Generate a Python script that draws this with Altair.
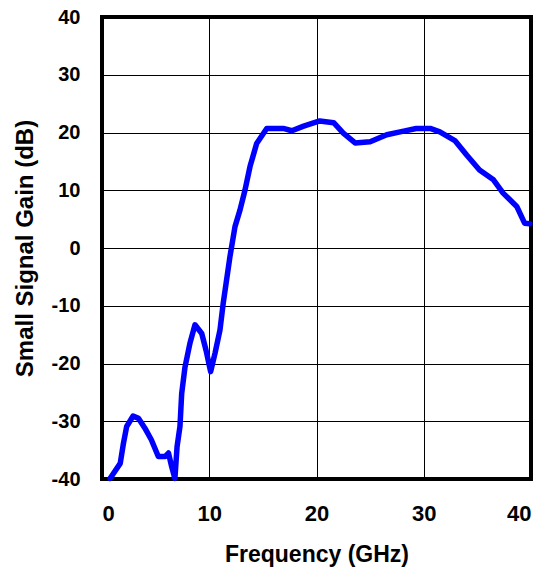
import altair as alt
import pandas as pd

freq = [0.75, 1.7, 2.0, 2.3, 2.9, 3.4, 4.0, 4.6, 5.25, 5.9, 6.2, 6.5, 6.8, 7.0, 7.27, 7.43, 7.74, 8.2, 8.67,
        9.3, 9.7, 10.13, 10.54, 11.0, 11.3, 11.93, 12.4, 12.87, 13.33, 13.8, 14.42, 15.36, 16.9, 17.7, 18.8,
        20.3, 21.6, 22.5, 23.6, 25.0, 26.55, 27.8, 29.3, 30.6, 31.5, 32.9, 34.0, 35.2, 36.5, 37.4, 38.67, 39.4, 39.9]
gain = [-39.9, -37.3, -33.8, -30.9, -29.1, -29.5, -31.2, -33.2, -36.1, -36.1, -35.5, -37.9, -39.9, -34.4,
        -30.9, -25.2, -20.6, -16.5, -13.3, -14.8, -17.7, -21.4, -18.2, -14.2, -9.6, -1.5, 3.7, 6.6, 10.0,
        14.1, 18.1, 20.7, 20.7, 20.3, 21.1, 22.0, 21.7, 19.9, 18.2, 18.4, 19.6, 20.1, 20.7, 20.7, 20.1, 18.6,
        16.1, 13.5, 11.8, 9.5, 7.2, 4.3, 4.2]
x_ticks = [0, 10, 20, 30, 40]
y_ticks = [-40, -30, -20, -10, 0, 10, 20, 30, 40]

df = pd.DataFrame({"f": freq, "g": gain})
FONT = "Liberation Sans"

chart = alt.Chart(df).mark_line(color="#0000FF", strokeWidth=5.5, strokeJoin="round", strokeCap="round").encode(
    x=alt.X("f:Q", title="Frequency (GHz)",
            scale=alt.Scale(domain=[0, 40], nice=False),
            axis=alt.Axis(values=x_ticks, grid=True, gridColor="black", gridOpacity=1, gridWidth=1,
                          domain=False, ticks=False, labelPadding=24, labelFontSize=22,
                          labelExpr="datum.value + ''",
                          labelFont=FONT, labelFontWeight="bold", labelColor="black",
                          titleFont=FONT, titleFontSize=23, titleFontWeight="bold", titleColor="black",
                          titlePadding=19)),
    y=alt.Y("g:Q", title="Small Signal Gain (dB)",
            scale=alt.Scale(domain=[-40, 40], nice=False),
            axis=alt.Axis(values=y_ticks, grid=True, gridColor="black", gridOpacity=1, gridWidth=1,
                          domain=False, ticks=False, labelPadding=22, labelFontSize=20,
                          labelExpr="datum.value + ''",
                          labelFont=FONT, labelFontWeight="bold", labelColor="black",
                          titleFont=FONT, titleFontSize=24, titleFontWeight="bold", titleColor="black",
                          titlePadding=14)),
).properties(
    width=429, height=462,
    autosize=alt.AutoSizeParams(type="none"),
    padding={"left": 94, "top": 9, "right": 7, "bottom": 89},
).configure_view(stroke="black", strokeWidth=4)

chart.save("out.html", embed_options={"renderer": "svg", "actions": False})
